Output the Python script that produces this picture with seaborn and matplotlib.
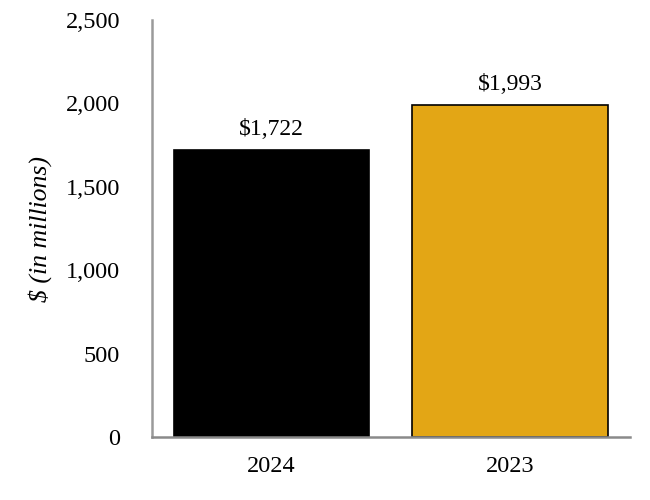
import matplotlib
matplotlib.use("Agg")
import matplotlib.pyplot as plt
import seaborn as sns
import pandas as pd

categories = ["2024", "2023"]
values = [1722, 1993]
labels = ["$1,722", "$1,993"]
colors = ["#000000", "#E3A615"]

sns.set_theme(style="white")
plt.rcParams['font.family'] = ['Liberation Serif', 'DejaVu Serif']
plt.rcParams['mathtext.default'] = 'regular'

df = pd.DataFrame({"year": categories, "value": values})

fig = plt.figure(figsize=(6.5, 5), dpi=100)
ax = fig.add_axes([0.234, 0.126, 0.735, 0.834])
sns.barplot(data=df, x="year", y="value", hue="year", palette=colors, legend=False,
            width=0.82, edgecolor="#000000", linewidth=1.2, ax=ax, saturation=1)

for i, (v, lab) in enumerate(zip(values, labels)):
    ax.text(i, v + 60, lab.replace("$", r"\$"), ha="center", va="bottom", fontsize=17, color="#000000")

ax.set_ylim(0, 2500)
ax.set_xlim(-0.5, 1.5)
ax.set_yticks([0, 500, 1000, 1500, 2000, 2500])
ax.set_yticklabels(["0", "500", "1,000", "1,500", "2,000", "2,500"])
ax.tick_params(axis='both', labelsize=17.5, colors="#000000", length=0)
ax.tick_params(axis='y', pad=23)
ax.tick_params(axis='x', pad=14)
ax.set_xlabel("")
ax.set_ylabel(r"\$ (in millions)", fontsize=18.5, style="italic", color="#000000", labelpad=10)
for s in ["top", "right"]:
    ax.spines[s].set_visible(False)
ax.spines["left"].set_color("#9a9a9a")
ax.spines["left"].set_linewidth(1.8)
ax.spines["bottom"].set_color("#8a8a8a")
ax.spines["bottom"].set_linewidth(1.8)

fig.savefig("out.png", dpi=100)
